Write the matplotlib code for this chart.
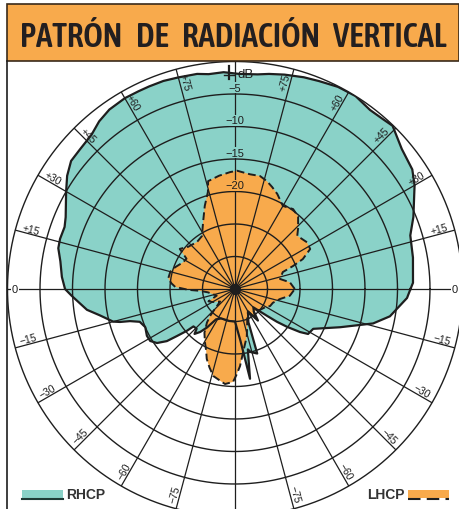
import numpy as np
import matplotlib
matplotlib.use("Agg")
import matplotlib.pyplot as plt
from matplotlib import font_manager
from matplotlib.font_manager import FontProperties
from matplotlib.patches import Rectangle
from matplotlib.lines import Line2D

# Diagrama vertical: ángulo (grados, 0 = horizontal derecha, antihorario) y nivel en dB
rhcp_ang = [0, 2, 10, 17, 22, 30, 34, 40, 46, 49, 53, 58, 63, 68, 72, 77, 81, 84, 89,
            93, 97, 100, 105, 109, 113, 116, 120, 125, 129, 133, 138, 142, 146, 150,
            157, 160, 164, 167, 171, 176, 180, 182.5, 188, 191, 195, 196, 197, 199, 203,
            208, 211.5, 214.7, 217.4, 219, 221, 222, 226, 228, 231, 234, 238, 245, 260,
            270, 276, 279.5, 282, 284, 289, 292, 300, 306, 310, 315, 320, 322, 324,
            326.5, 328.4, 333, 340, 346, 350, 357]
rhcp_db = [-8.0, -7.6, -7.2, -6.8, -5.4, -3.1, -2.1, -1.5, -0.1, -0.35, -0.5, 0.0, -0.1,
           -0.5, -0.75, -1.15, -1.5, -1.8, -1.9, -1.6, -1.7, -1.4, -1.3, -1.15, -1.15,
           -1.15, -1.1, -1.3, -1.8, -2.6, -2.9, -3.0, -3.85, -5.0, -6.7, -7.1, -7.0, -7.1,
           -7.8, -8.3, -8.85, -9.9, -12.0, -13.8, -15.6, -16.6, -18.1, -19.5, -20.0,
           -19.65, -19.7, -20.4, -21.8, -23.5, -25.2, -26.4, -26.5, -25.7, -26.5, -27.7,
           -29.5, -30.0, -30.0, -30.0, -27.0, -21.0, -25.5, -25.0, -24.5, -29.5, -31.0,
           -29.0, -30.5, -31.0, -28.6, -26.8, -25.1, -23.0, -21.8, -21.5, -17.8, -13.1,
           -10.8, -8.5]

lhcp_ang = [0, 7, 12.5, 19.5, 21.6, 23.8, 28, 33, 40.5, 44, 49, 54, 60, 66, 70, 73.5,
            77.5, 82.6, 89, 92.4, 98, 104, 105.6, 110, 115.5, 122, 129, 138, 144, 148,
            153, 160, 165, 171, 175, 178, 181, 183, 187, 192, 200, 205, 210, 220, 227,
            230, 235, 240.5, 245, 248, 252, 256, 260, 264, 268.8, 271, 273.7, 278, 284,
            290, 292, 300, 305, 310, 320, 330, 334, 340, 347.5, 353]
lhcp_db = [-25.8, -26.5, -27.9, -27.2, -25.4, -23.6, -21.9, -21.8, -22.4, -21.5, -20.2,
           -19.8, -20.25, -19.0, -18.3, -17.7, -17.2, -17.2, -16.8, -17.0, -17.4, -17.9,
           -19.5, -21.4, -23.6, -25.4, -25.7, -25.3, -24.5, -26.2, -26.0, -25.2, -24.7,
           -24.6, -25.2, -25.8, -27.8, -29.6, -30.8, -31.4, -32.0, -30.5, -31.0, -32.0,
           -29.5, -28.3, -26.8, -25.6, -24.5, -23.4, -22.3, -21.2, -20.8, -20.3, -20.7,
           -21.8, -23.1, -25.5, -27.5, -29.5, -30.0, -31.0, -29.5, -30.5, -30.0, -29.5,
           -29.0, -28.8, -27.9, -26.5]

ring_db = [-30, -25, -20, -15, -10, -5, 0]
ring_labels = ["\u22125", "\u221210", "\u221215", "\u221220"]
ring_label_db = [-5, -10, -15, -20]
spoke_deg = list(range(0, 360, 15))
spoke_labels = ["0", "+15", "+30", "+45", "+60", "+75", "dB", "+75", "+60", "+45", "+30",
                "+15", "0", "\u221215", "\u221230", "\u221245", "\u221260", "\u221275", "",
                "\u221275", "\u221260", "\u221245", "\u221230", "\u221215"]
title_words = ["PATRÓN", "DE", "RADIACIÓN", "VERTICAL"]

teal = "#8ad2c8"
orange = "#f8aa4c"
ink = "#1e1e1e"

W, H = 460, 510
fig = plt.figure(figsize=(W / 100, H / 100), dpi=100)


def fx(px):
    return px / W


def fy(py):  # py medido desde arriba
    return 1 - py / H


STRETCH = {"ultra-condensed": 100, "extra-condensed": 200, "condensed": 300,
           "semi-condensed": 400, "normal": 500}
WEIGHT = {"normal": 400, "regular": 400, "book": 400, "medium": 500, "semibold": 600,
          "demibold": 600, "bold": 700, "heavy": 800, "black": 900, "light": 300}


# fuente estrecha para el titulo (la más parecida a una Helvetica Condensed)
def pick_title_font():
    best = None
    for f in font_manager.fontManager.ttflist:
        st = f.stretch if isinstance(f.stretch, int) else STRETCH.get(f.stretch, 500)
        if ("Narrow" in f.name or "Condensed" in f.name) and st >= 500:
            st = 300
        if st >= 500 or f.style != "normal":
            continue
        w = f.weight if isinstance(f.weight, int) else WEIGHT.get(f.weight, 400)
        score = -abs(st - 300) - 0.5 * abs(w - 560)
        if best is None or score > best[0]:
            best = (score, f.fname)
    if best:
        return FontProperties(fname=best[1])
    return FontProperties(family=["Roboto", "Liberation Sans", "DejaVu Sans"], weight="medium")


sans = ["Liberation Sans", "DejaVu Sans"]

# ejes polares: centro en (235, 290) px, radio 227.5 px
cx, cy, R = 235, 290, 227.5
ax = fig.add_axes([fx(cx - R), fy(cy + R), fx(2 * R), 2 * R / H], projection="polar")
ax.set_ylim(-35, 0)
ax.set_axis_off()

ax.fill(np.deg2rad(rhcp_ang), rhcp_db, color=teal, zorder=1, lw=0)
ax.fill(np.deg2rad(lhcp_ang), lhcp_db, color=orange, zorder=2, lw=0)

# rejilla
th = np.linspace(0, 2 * np.pi, 400)
for r in ring_db:
    ax.plot(th, np.full_like(th, r), color=ink, lw=1.0, zorder=3, clip_on=False)
for d in spoke_deg:
    ax.plot([np.deg2rad(d)] * 2, [-35, 0], color=ink, lw=0.9, zorder=3)
ax.plot([0], [-35], "o", color=ink, ms=7, zorder=6)

# contornos
t_r = np.deg2rad(rhcp_ang + [rhcp_ang[0]])
ax.plot(t_r, rhcp_db + [rhcp_db[0]], color=ink, lw=1.6, zorder=4)
t_l = np.deg2rad(lhcp_ang + [lhcp_ang[0]])
ax.plot(t_l, lhcp_db + [lhcp_db[0]], color=ink, lw=1.4, ls=(0, (4, 2)), zorder=5)

# etiquetas de nivel en el eje vertical
for lab, d in zip(ring_labels, ring_label_db):
    bg = orange if d <= -20 else teal
    ax.text(np.pi / 2, d + 0.95, lab, ha="center", va="center", fontsize=8,
            family=sans, color=ink, zorder=7,
            bbox=dict(boxstyle="square,pad=0.05", fc=bg, ec="none"))

# etiquetas de los radios
r_lab = 213 / 6.5 - 35
for d, lab in zip(spoke_deg, spoke_labels):
    if not lab:
        continue
    t = np.deg2rad(d)
    if lab == "0":
        ax.text(t, 220 / 6.5 - 35, lab, ha="center", va="center", fontsize=8,
                family=sans, color=ink, zorder=7,
                bbox=dict(boxstyle="square,pad=0.1", fc="white", ec="none"))
        continue
    if lab == "dB":
        ax.annotate(lab, (t, (cy - 75) / 6.5 - 35), xytext=(2, 0),
                    textcoords="offset points", ha="left", va="center",
                    fontsize=9.5, family=sans, color=ink, zorder=7)
        continue
    rot = d if (d < 90 or d > 270) else d - 180
    ax.text(t, r_lab, lab, ha="center", va="bottom", rotation=rot,
            rotation_mode="anchor", fontsize=7.5, family=sans, color=ink, zorder=7)

# marca junto a dB
fig.add_artist(Line2D([fx(229), fx(229)], [fy(67), fy(80)], color=ink, lw=1.6))
fig.add_artist(Line2D([fx(224), fx(234)], [fy(76), fy(76)], color=ink, lw=1.0))

# marco izquierdo
fig.add_artist(Line2D([fx(7.5), fx(7.5)], [fy(62), 0], color=ink, lw=1.2))

# cabecera: palabras repartidas entre x=20 y x=447 con huecos iguales
fig.add_artist(Rectangle((fx(7), fy(62)), fx(452), 57 / H, fc=orange, ec="#3a2a1a", lw=1.2))
fp = pick_title_font()
fp.set_size(24)
words = [fig.text(0, fy(47), wd, ha="left", va="baseline", fontproperties=fp,
                  color="#231f20") for wd in title_words]
fig.canvas.draw()
widths = [t.get_window_extent().width for t in words]
size = 24 * 387 / sum(widths)
widths = [w * size / 24 for w in widths]
gap = (447 - 20 - sum(widths)) / (len(words) - 1)
x = 20
for t, w in zip(words, widths):
    t.set_fontsize(size)
    t.set_x(fx(x))
    x += w + gap

# leyenda
fig.add_artist(Rectangle((fx(22), fy(499)), fx(41), 8 / H, fc=teal, ec="none"))
fig.add_artist(Line2D([fx(22), fx(63)], [fy(499.5), fy(499.5)], color="#1f3a36", lw=1.5))
fig.text(fx(66), fy(495), "RHCP", ha="left", va="center", fontsize=10, weight="bold",
         family=sans, color="#333333")
fig.add_artist(Rectangle((fx(408), fy(499)), fx(41), 8 / H, fc=orange, ec="none"))
fig.add_artist(Line2D([fx(408), fx(449)], [fy(499.5), fy(499.5)], color=ink, lw=1.5,
                      ls=(0, (6, 3))))
fig.text(fx(405), fy(495), "LHCP", ha="right", va="center", fontsize=10, weight="bold",
         family=sans, color="#333333")

fig.savefig("out.png", dpi=100)
